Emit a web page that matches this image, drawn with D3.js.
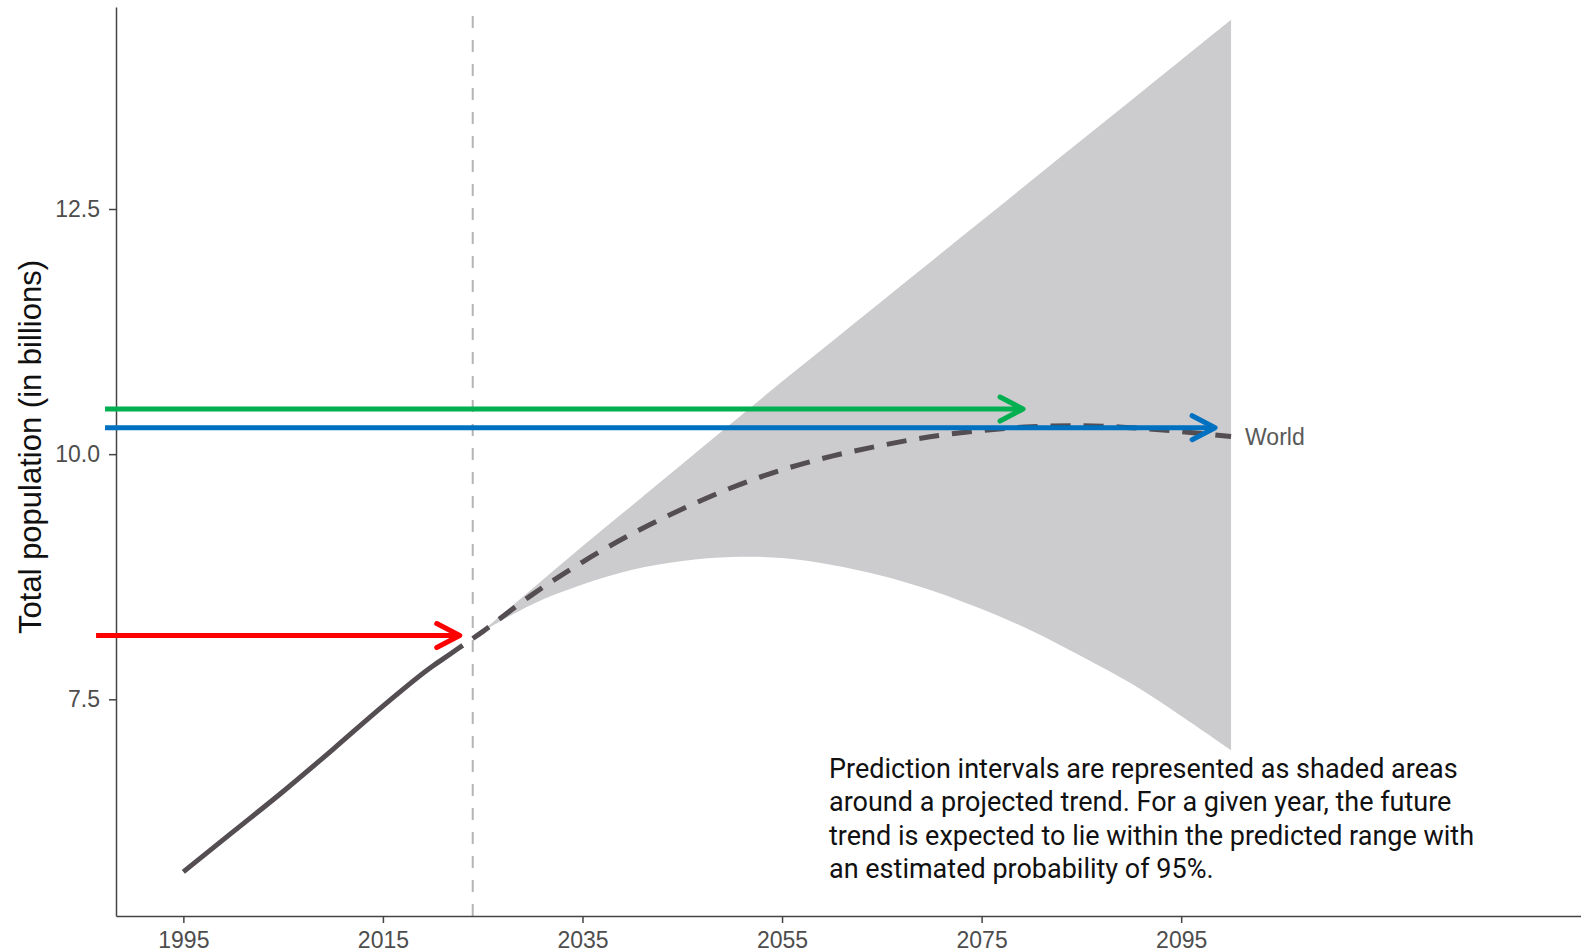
<!DOCTYPE html>
<html>
<head>
<meta charset="utf-8">
<script src="https://cdn.jsdelivr.net/npm/d3@7"></script>
<style>
  body { margin: 0; background: #fff; }
  #chart svg { display: block; }
  .axis path, .axis line { stroke: #444; stroke-width: 1.5; }
  .axis text { font-family: "Liberation Sans", Arial, sans-serif; font-size: 23px; fill: #4d4d4d; }
</style>
</head>
<body>
<div id="chart"></div>
<script>
// Observed world population (billions)
const histYears = [1995, 2000, 2005, 2010, 2015, 2020, 2021, 2022, 2023];
const histPop = [5.74, 6.15, 6.56, 6.99, 7.43, 7.84, 7.91, 7.98, 8.05];

// Projection: median and 95% prediction interval
const projYears = [2024, 2025, 2030, 2035, 2040, 2045, 2050, 2055, 2060, 2065, 2070, 2075, 2080, 2085, 2090, 2095, 2100];
const projMedian = [8.12, 8.19, 8.57, 8.90, 9.19, 9.44, 9.66, 9.84, 9.98, 10.09, 10.18, 10.24, 10.28, 10.29, 10.27, 10.23, 10.18];
const projLower = [8.12, 8.19, 8.47, 8.67, 8.82, 8.91, 8.95, 8.94, 8.87, 8.76, 8.61, 8.42, 8.20, 7.94, 7.66, 7.33, 6.98];
const projUpper = [8.12, 8.20, 8.63, 9.06, 9.48, 9.90, 10.32, 10.74, 11.15, 11.56, 11.97, 12.38, 12.79, 13.20, 13.61, 14.02, 14.43];

const xTicks = [1995, 2015, 2035, 2055, 2075, 2095];
const yTicks = [7.5, 10.0, 12.5];
const seriesLabel = "World";
const cutoffYear = 2024;

// Arrows drawn over the chart (value = level, from/to in years)
const arrowValues = [10.46, 10.27, 8.15];
const arrowFrom = [1987.15, 1987.15, 1986.25];
const arrowTo = [2079.15, 2098.4, 2022.7];
const arrowColors = ["#00b050", "#0070c0", "#ff0000"];

const noteLines = [
  "Prediction intervals are represented as shaded areas",
  "around a projected trend. For a given year, the future",
  "trend is expected to lie within the predicted range with",
  "an estimated probability of 95%."
];

class PopulationChart {
  constructor(_config) {
    this.config = {
      parentElement: _config.parentElement,
      containerWidth: _config.containerWidth || 1581,
      containerHeight: _config.containerHeight || 952,
      margin: _config.margin || { top: 7, right: 0, bottom: 36, left: 116 },
      lineColor: "#544d51",
      bandColor: "#cccbcd"
    };
    this.initVis();
  }

  initVis() {
    let vis = this;

    vis.width = vis.config.containerWidth - vis.config.margin.left - vis.config.margin.right;
    vis.height = vis.config.containerHeight - vis.config.margin.top - vis.config.margin.bottom;

    vis.svg = d3.select(vis.config.parentElement)
      .append("svg")
      .attr("width", vis.config.containerWidth)
      .attr("height", vis.config.containerHeight);

    vis.chart = vis.svg.append("g")
      .attr("transform", `translate(${vis.config.margin.left},${vis.config.margin.top})`);

    vis.xScale = d3.scaleLinear().domain([1988.25, 2135.07]).range([0, vis.width]);
    vis.yScale = d3.scaleLinear().domain([5.29, 14.56]).range([vis.height, 0]);

    vis.xAxis = d3.axisBottom(vis.xScale).tickValues(xTicks).tickFormat(d3.format("d"))
      .tickSize(7).tickPadding(9).tickSizeOuter(0);
    vis.yAxis = d3.axisLeft(vis.yScale).tickValues(yTicks).tickFormat(d3.format(".1f"))
      .tickSize(7).tickPadding(9).tickSizeOuter(0);

    vis.renderVis();
  }

  renderVis() {
    let vis = this;
    const x = vis.xScale, y = vis.yScale;

    const proj = projYears.map((yr, i) => ({ year: yr, mid: projMedian[i], lo: projLower[i], hi: projUpper[i] }));
    const hist = histYears.map((yr, i) => ({ year: yr, value: histPop[i] }));

    // shaded prediction interval
    vis.chart.append("path")
      .datum(proj)
      .attr("fill", vis.config.bandColor)
      .attr("d", d3.area().curve(d3.curveCatmullRom.alpha(0.5))
        .x(d => x(d.year)).y0(d => y(d.lo)).y1(d => y(d.hi)));

    // cutoff line
    vis.chart.append("line")
      .attr("x1", x(cutoffYear)).attr("x2", x(cutoffYear))
      .attr("y1", vis.height).attr("y2", 0)
      .attr("stroke", "#b5b5b5")
      .attr("stroke-width", 2)
      .attr("stroke-dasharray", "12,12");

    // observed
    vis.chart.append("path")
      .datum(hist)
      .attr("fill", "none")
      .attr("stroke", vis.config.lineColor)
      .attr("stroke-width", 5)
      .attr("d", d3.line().curve(d3.curveMonotoneX).x(d => x(d.year)).y(d => y(d.value)));

    // projected median
    vis.chart.append("path")
      .datum(proj)
      .attr("fill", "none")
      .attr("stroke", vis.config.lineColor)
      .attr("stroke-width", 5)
      .attr("stroke-dasharray", "20,13")
      .attr("d", d3.line().curve(d3.curveCatmullRom.alpha(0.5)).x(d => x(d.year)).y(d => y(d.mid)));

    vis.chart.append("text")
      .attr("x", x(2100) + 14)
      .attr("y", y(projMedian[projMedian.length - 1]))
      .attr("dy", "0.35em")
      .attr("font-family", "Liberation Sans, Arial, sans-serif")
      .attr("font-size", 23)
      .attr("fill", "#595959")
      .text(seriesLabel);

    // axes
    vis.chart.append("g")
      .attr("class", "axis x-axis")
      .attr("transform", `translate(0,${vis.height})`)
      .call(vis.xAxis);

    vis.chart.append("g")
      .attr("class", "axis y-axis")
      .call(vis.yAxis);

    vis.svg.append("text")
      .attr("transform", `translate(41,447) rotate(-90)`)
      .attr("text-anchor", "middle")
      .attr("font-family", "Liberation Sans, Arial, sans-serif")
      .attr("font-size", 31)
      .attr("fill", "#111")
      .text("Total population (in billions)");

    // arrows
    const arrows = arrowValues.map((v, i) => ({ value: v, from: arrowFrom[i], to: arrowTo[i], color: arrowColors[i] }));
    const ag = vis.chart.selectAll(".arrow")
      .data(arrows)
      .join("g")
      .attr("class", "arrow")
      .attr("fill", "none")
      .attr("stroke", d => d.color)
      .attr("stroke-width", 5)
      .attr("stroke-linecap", "round")
      .attr("stroke-linejoin", "round");

    ag.append("line")
      .attr("x1", d => x(d.from)).attr("x2", d => x(d.to) - 2)
      .attr("y1", d => y(d.value)).attr("y2", d => y(d.value))
      .attr("stroke-linecap", "butt");

    ag.append("path")
      .attr("d", d => {
        const tx = x(d.to), ty = y(d.value);
        return `M${tx - 23},${ty - 12}L${tx},${ty}L${tx - 23},${ty + 12}`;
      });

    // note
    vis.svg.append("text")
      .attr("x", 829)
      .attr("y", 778)
      .attr("font-family", "Roboto, sans-serif")
      .attr("font-size", 27)
      .attr("fill", "#111")
      .selectAll("tspan")
      .data(noteLines)
      .join("tspan")
      .attr("x", 829)
      .attr("dy", (d, i) => i === 0 ? 0 : 33.3)
      .text(d => d);
  }
}

new PopulationChart({ parentElement: "#chart" });
</script>
</body>
</html>
